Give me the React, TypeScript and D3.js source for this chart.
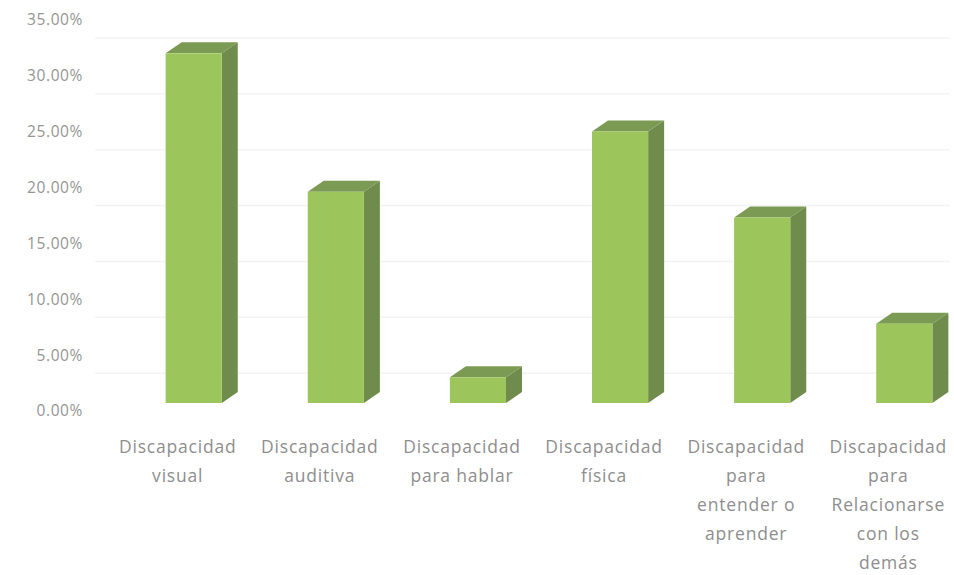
import React from "react";
import * as d3 from "d3";

const categories: string[][] = [
  ["Discapacidad", "visual"],
  ["Discapacidad", "auditiva"],
  ["Discapacidad", "para hablar"],
  ["Discapacidad", "física"],
  ["Discapacidad", "para", "entender o", "aprender"],
  ["Discapacidad", "para", "Relacionarse", "con los", "demás"],
];
const values: number[] = [0.313, 0.189, 0.023, 0.243, 0.166, 0.071];
const yTicks: number[] = [0, 0.05, 0.1, 0.15, 0.2, 0.25, 0.3, 0.35];

const W = 954;
const H = 575;

export default function App() {
  const y = d3.scaleLinear().domain([0, 0.35]).range([411, 20]);
  const x = d3
    .scaleBand<number>()
    .domain(d3.range(values.length))
    .range([123, 975])
    .paddingInner(0.605)
    .paddingOuter(0.3);
  const frontOffset = -8;
  const dx = 16;
  const dy = 11;
  const fmt = d3.format(".2%");
  const bw = x.bandwidth();

  return (
    <svg
      width={W}
      height={H}
      style={{ position: "absolute", left: 0, top: 0, background: "#fff" }}
      fontFamily="'Open Sans', sans-serif"
    >
      {yTicks.slice(1).map((t) => (
        <line
          key={"g" + t}
          x1={95}
          x2={950}
          y1={y(t) + 18}
          y2={y(t) + 18}
          stroke="#f3f3f3"
          strokeWidth={1.5}
        />
      ))}
      {yTicks.map((t) => (
        <text
          key={"t" + t}
          x={83}
          y={y(t)}
          dy="0.35em"
          textAnchor="end"
          fontSize={15.5}
          letterSpacing={0.6}
          fill="#959595"
        >
          {fmt(t)}
        </text>
      ))}
      {values.map((v, i) => {
        const x0 = x(i)!;
        const x1 = x0 + bw;
        const yt = y(v) + frontOffset;
        const yb = y(0) + frontOffset;
        const top = `M${x0},${yt} L${x0 + dx},${yt - dy} L${x1 + dx},${yt - dy} L${x1},${yt} Z`;
        const side = `M${x1},${yt} L${x1 + dx},${yt - dy} L${x1 + dx},${yb - dy} L${x1},${yb} Z`;
        return (
          <g key={"b" + i}>
            <path d={side} fill="#6f8c4c" />
            <path d={top} fill="#7b9a53" />
            <rect x={x0} y={yt} width={bw} height={yb - yt} fill="#9cc65b" />
          </g>
        );
      })}
      {categories.map((lines, i) => {
        const cx = x(i)! + bw / 2 - 16;
        return (
          <text
            key={"c" + i}
            x={cx}
            y={447}
            textAnchor="middle"
            fontSize={17.5}
            letterSpacing={0.8}
            fill="#8e8e8e"
          >
            {lines.map((l, j) => (
              <tspan key={j} x={cx} y={447 + j * 29} dy="0.35em">
                {l}
              </tspan>
            ))}
          </text>
        );
      })}
    </svg>
  );
}
